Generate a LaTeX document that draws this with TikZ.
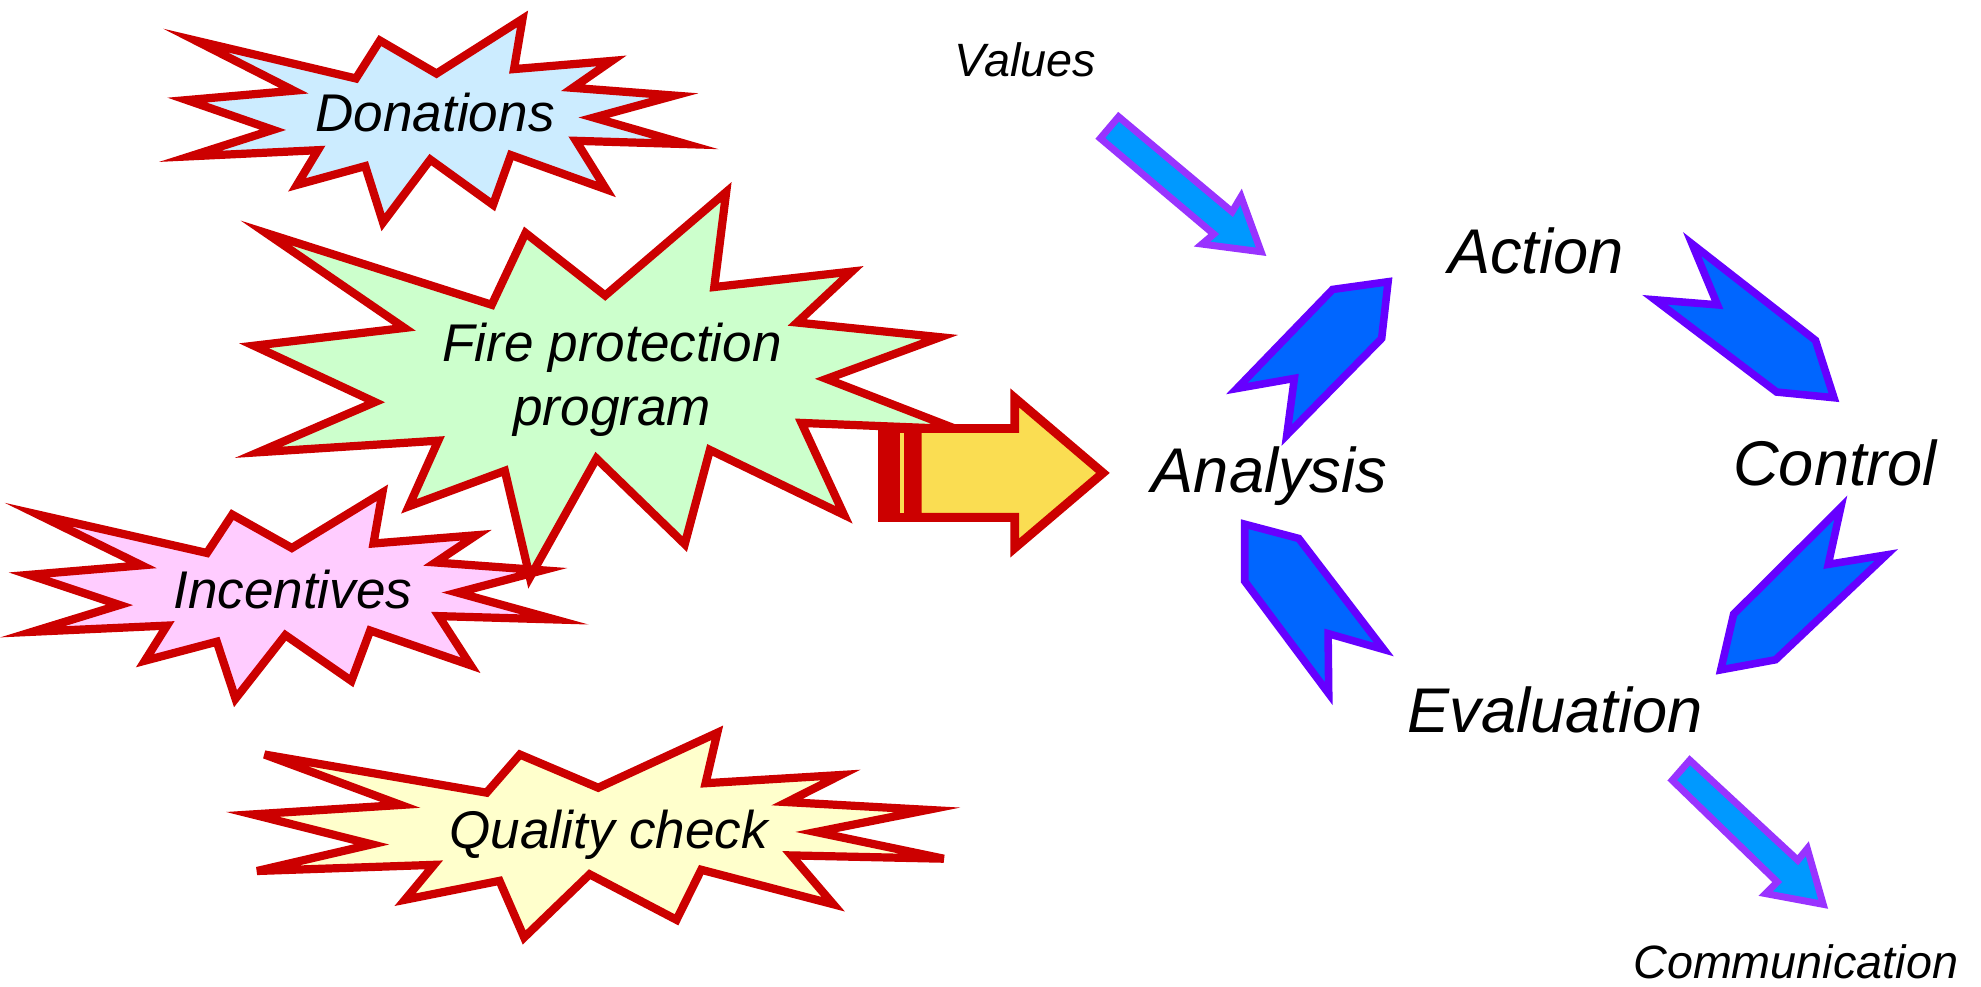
\documentclass[tikz,border=0pt]{standalone}
\usepackage{fontspec}
\setmainfont{Liberation Sans}
\usepackage{tikz}

\definecolor{sealred}{HTML}{CC0000}
\definecolor{donfill}{HTML}{CCECFF}
\definecolor{firefill}{HTML}{CCFFCC}
\definecolor{incfill}{HTML}{FFCCFF}
\definecolor{qualfill}{HTML}{FFFFCC}
\definecolor{arrowfill}{RGB}{250,221,82}
\definecolor{cycfill}{HTML}{0066FF}
\definecolor{cycline}{HTML}{6600FF}
\definecolor{flowfill}{HTML}{0099FF}
\definecolor{flowline}{HTML}{9933FF}

\tikzset{
	seal/.style={draw=sealred, line width=6.5pt},
	lab/.style={inner sep=0pt, font=\itshape\fontsize{42}{51}\selectfont},
	biglab/.style={inner sep=0pt, font=\itshape\fontsize{50}{60}\selectfont},
	smalllab/.style={inner sep=0pt, font=\itshape\fontsize{37}{44}\selectfont},
	cycarrow/.style={fill=cycfill, draw=cycline, line width=6pt},
	flowarrow/.style={fill=flowfill, draw=flowline, line width=5.5pt},
	bigarrow/.style={fill=arrowfill, draw=sealred, line width=7pt},
}

% explosion outline in a 21.6 x 21.6 box
\newcommand{\sealpath}{(10.8,5.8) -- (14.522,0) -- (14.155,5.325) -- (18.38,4.457)
	-- (16.702,7.315) -- (21.097,8.137) -- (17.607,10.475) -- (21.6,13.29)
	-- (16.837,12.942) -- (18.145,18.095) -- (14.02,14.457) -- (13.247,19.737)
	-- (10.532,14.935) -- (8.485,21.6) -- (7.715,15.627) -- (4.762,17.617)
	-- (5.667,13.937) -- (0.135,14.587) -- (3.722,11.775) -- (0,8.615)
	-- (4.627,7.617) -- (0.37,2.295) -- (7.312,6.32) -- (8.352,2.295) -- cycle}

\begin{document}
\begin{tikzpicture}[x=1pt, y=-1pt]
	\useasboundingbox (0,0) rectangle (1568,781.2);
	
	% explosions
	\filldraw[seal, fill=donfill, shift={(148,15)}, xscale=395/21.6, yscale=161/21.6] \sealpath;
	\filldraw[seal, fill=incfill, shift={(23,390)}, xscale=416/21.6, yscale=163/21.6] \sealpath;
	\filldraw[seal, fill=firefill, shift={(201,152)}, xscale=556/21.6, yscale=305/21.6] \sealpath;
	\filldraw[seal, fill=qualfill, shift={(200,580)}, xscale=547/21.6, yscale=162/21.6] \sealpath;
	
	\node[lab, anchor=base] (don) at (344.4,104.3) {Donations};
	\node[lab, align=center] (fire) at (484.5,300.5) {Fire protection\\program};
	\node[lab, anchor=base] (inc) at (231.8,481.7) {Incentives};
	\node[lab, anchor=base] (qual) at (481.9,671.7) {Quality check};
	
	% striped arrow
	\filldraw[bigarrow, fill=sealred] (698.1,339.2) rectangle (703,409.5);
	\filldraw[bigarrow] (708.8,339.2) rectangle (719.1,409.5);
	\filldraw[bigarrow] (725.9,339.2) -- (803.2,339.2) -- (803.2,315) -- (873,374.35)
		-- (803.2,433.7) -- (803.2,409.5) -- (725.9,409.5) -- cycle;
	
	% cycle
	\node[biglab, anchor=base] (ana) at (1004.8,390) {Analysis};
	\node[biglab, anchor=base] (act) at (1215.7,216.4) {Action};
	\node[biglab, anchor=base] (con) at (1452.5,384) {Control};
	\node[biglab, anchor=base] (eva) at (1231,580) {Evaluation};
	
	\filldraw[cycarrow] (1098.7,223) -- (1054.8,229.1) -- (979,307.5) -- (1024.5,299.5)
		-- (1018.5,344.4) -- (1093.6,267.9) -- cycle;
	\filldraw[cycarrow] (1339.3,193.1) -- (1437,269.4) -- (1451.6,314.8) -- (1406.2,310.3)
		-- (1309.9,237.3) -- (1359.4,241.3) -- cycle;
	\filldraw[cycarrow] (1457,401.7) -- (1447.1,446.7) -- (1493.1,439.2) -- (1405.4,522.2)
		-- (1362,530.2) -- (1372.2,486.1) -- cycle;
	\filldraw[cycarrow] (985.2,414.9) -- (1028,426.2) -- (1095.3,514.1) -- (1051.2,501.5)
		-- (1051.7,549) -- (985.2,460) -- cycle;
	
	% values in, communication out
	\node[smalllab, anchor=base] (val) at (811.5,60.7) {Values};
	\node[smalllab, anchor=base] (com) at (1421.3,774.5) {Communication};
	
	\filldraw[flowarrow] (885.4,92.4) -- (975.2,167.6) -- (982.3,155.7) -- (998.2,199.3)
		-- (951.4,193.2) -- (960.7,185.3) -- (870.9,109.5) -- cycle;
	\filldraw[flowarrow] (1337.5,601.7) -- (1423,680.9) -- (1430.5,671.7) -- (1443.1,715.8)
		-- (1397.5,707.3) -- (1406.7,698.1) -- (1323.6,617.6) -- cycle;
\end{tikzpicture}
\end{document}
